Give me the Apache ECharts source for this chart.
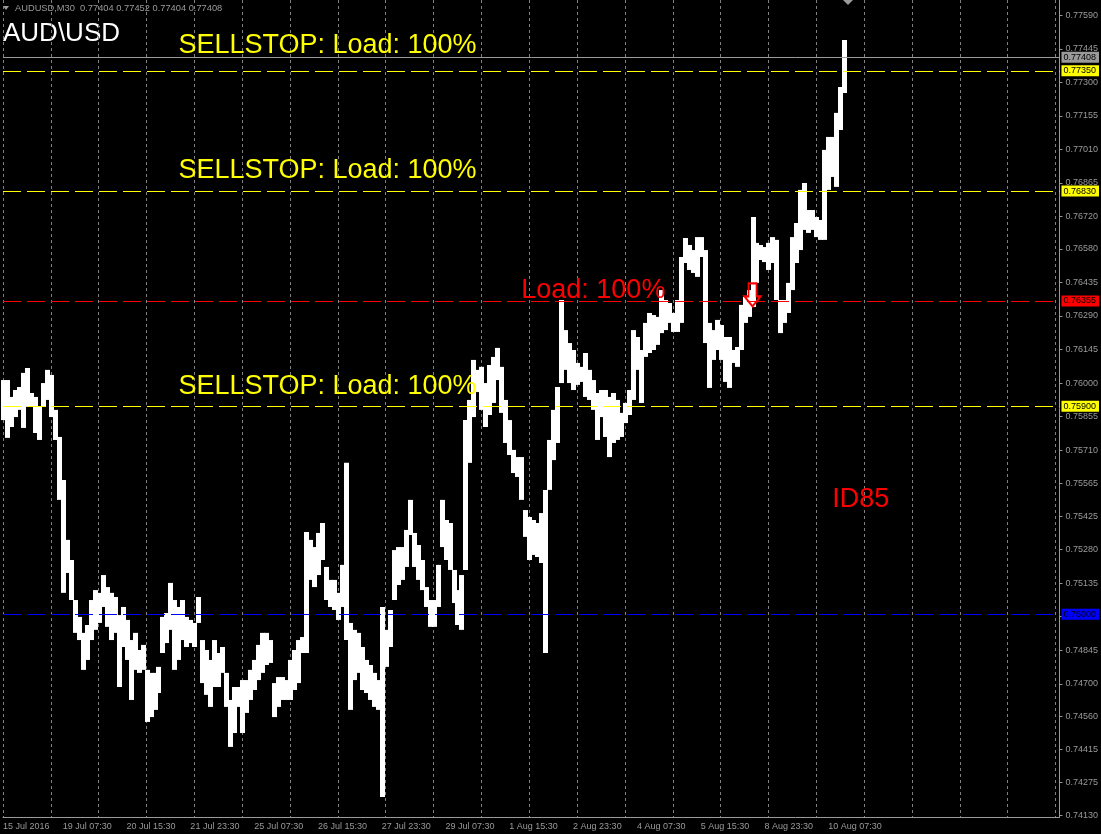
<!DOCTYPE html>
<html>
<head>
<meta charset="utf-8">
<script src="https://cdn.jsdelivr.net/npm/echarts@6/dist/echarts.min.js"></script>
<style>
  html, body { margin: 0; padding: 0; background: #000; }
  #chart { width: 1101px; height: 834px; }
</style>
</head>
<body>
<div id="chart"></div>
<script>
// AUDUSD M30, one entry per 4 bars (high / low of the group)
var highs = [
  0.76013, 0.76013, 0.75940, 0.75970, 0.75983, 0.76044, 0.76065, 0.75957, 0.75940, 0.75897,
  0.76000, 0.76057, 0.76035, 0.75884, 0.75767, 0.75581, 0.75322, 0.75235, 0.75062, 0.74989,
  0.74920, 0.74954, 0.75062, 0.75105, 0.75093, 0.75170, 0.75118, 0.75093, 0.75075, 0.74997,
  0.75032, 0.74976, 0.74889, 0.74920, 0.74846, 0.74868, 0.74760, 0.74747, 0.74747, 0.74773,
  0.74989, 0.75006, 0.75136, 0.75062, 0.75032, 0.75062, 0.74989, 0.74976, 0.74963, 0.75075,
  0.74889, 0.74846, 0.74803, 0.74889, 0.74833, 0.74859, 0.74747, 0.74630, 0.74686, 0.74686,
  0.74716, 0.74716, 0.74760, 0.74803, 0.74868, 0.74920, 0.74920, 0.74889, 0.74703, 0.74729,
  0.74729, 0.74716, 0.74803, 0.74846, 0.74889, 0.74902, 0.75356, 0.75322, 0.75291, 0.75352,
  0.75395, 0.75205, 0.75149, 0.75149, 0.75093, 0.75214, 0.75655, 0.74963, 0.74933, 0.74920,
  0.74859, 0.74803, 0.74781, 0.74747, 0.74716, 0.75032, 0.74933, 0.75019, 0.75278, 0.75291,
  0.75291, 0.75365, 0.75495, 0.75352, 0.75300, 0.75235, 0.75118, 0.75062, 0.75062, 0.75214,
  0.75495, 0.75408, 0.75395, 0.75192, 0.75105, 0.75170, 0.75840, 0.75927, 0.76100, 0.76057,
  0.76070, 0.76000, 0.76078, 0.76113, 0.76152, 0.76070, 0.75927, 0.75840, 0.75711, 0.75680,
  0.75680, 0.75451, 0.75421, 0.75408, 0.75395, 0.75438, 0.75538, 0.75754, 0.75884, 0.75983,
  0.76359, 0.76229, 0.76173, 0.76143, 0.76087, 0.76070, 0.76130, 0.76057, 0.76013, 0.75957,
  0.75970, 0.75970, 0.75940, 0.75957, 0.75927, 0.75871, 0.75914, 0.75970, 0.76229, 0.76199,
  0.76143, 0.76260, 0.76303, 0.76294, 0.76286, 0.76402, 0.76359, 0.76346, 0.76303, 0.76359,
  0.76545, 0.76627, 0.76597, 0.76575, 0.76631, 0.76631, 0.76575, 0.76260, 0.76229, 0.76273,
  0.76251, 0.76199, 0.76199, 0.76143, 0.76156, 0.76338, 0.76372, 0.76402, 0.76718, 0.76606,
  0.76597, 0.76588, 0.76606, 0.76631, 0.76619, 0.76359, 0.76359, 0.76433, 0.76631, 0.76692,
  0.76835, 0.76865, 0.76748, 0.76748, 0.76718, 0.76705, 0.77008, 0.77064, 0.77064, 0.77168,
  0.77280, 0.77483
];
var lows = [
  0.75840, 0.75763, 0.75810, 0.75853, 0.75884, 0.75806, 0.75897, 0.75897, 0.75784, 0.75754,
  0.75897, 0.75927, 0.75853, 0.75754, 0.75495, 0.75093, 0.75179, 0.75062, 0.74920, 0.74889,
  0.74760, 0.74803, 0.74889, 0.74933, 0.74963, 0.75032, 0.74946, 0.74889, 0.74920, 0.74686,
  0.74859, 0.74803, 0.74630, 0.74760, 0.74747, 0.74760, 0.74535, 0.74556, 0.74587, 0.74660,
  0.74833, 0.74876, 0.74933, 0.74760, 0.74803, 0.74889, 0.74859, 0.74876, 0.74859, 0.74963,
  0.74703, 0.74652, 0.74600, 0.74686, 0.74686, 0.74747, 0.74600, 0.74427, 0.74487, 0.74600,
  0.74487, 0.74574, 0.74630, 0.74673, 0.74716, 0.74747, 0.74781, 0.74790, 0.74556, 0.74600,
  0.74630, 0.74630, 0.74630, 0.74673, 0.74703, 0.74833, 0.74833, 0.75149, 0.75118, 0.75170,
  0.75235, 0.75062, 0.75032, 0.75019, 0.74976, 0.75032, 0.74889, 0.74587, 0.74716, 0.74747,
  0.74673, 0.74660, 0.74630, 0.74600, 0.74587, 0.74211, 0.74773, 0.74859, 0.75062, 0.75127,
  0.75149, 0.75205, 0.75343, 0.75205, 0.75149, 0.75105, 0.75032, 0.74946, 0.74946, 0.75032,
  0.75291, 0.75235, 0.75192, 0.75049, 0.74954, 0.74933, 0.75192, 0.75655, 0.75853, 0.75961,
  0.75884, 0.75810, 0.75862, 0.75914, 0.76013, 0.75871, 0.75741, 0.75689, 0.75611, 0.75594,
  0.75495, 0.75335, 0.75235, 0.75257, 0.75248, 0.75222, 0.74833, 0.75538, 0.75667, 0.75741,
  0.76000, 0.76057, 0.76000, 0.75970, 0.75992, 0.76005, 0.75940, 0.75927, 0.75884, 0.75754,
  0.75853, 0.75767, 0.75680, 0.75741, 0.75754, 0.75767, 0.75827, 0.75862, 0.75927, 0.76057,
  0.75914, 0.76113, 0.76130, 0.76143, 0.76165, 0.76216, 0.76229, 0.76260, 0.76221, 0.76221,
  0.76260, 0.76519, 0.76489, 0.76476, 0.76459, 0.76545, 0.76173, 0.75979, 0.76100, 0.76143,
  0.76100, 0.76005, 0.75979, 0.76087, 0.76070, 0.76143, 0.76260, 0.76286, 0.76329, 0.76433,
  0.76532, 0.76523, 0.76489, 0.76519, 0.76359, 0.76216, 0.76260, 0.76303, 0.76402, 0.76519,
  0.76575, 0.76662, 0.76649, 0.76662, 0.76631, 0.76619, 0.76619, 0.76835, 0.76891, 0.76848,
  0.77094, 0.77254
];

var timeLabels = ['15 Jul 2016', '19 Jul 07:30', '20 Jul 15:30', '21 Jul 23:30', '25 Jul 07:30',
  '26 Jul 15:30', '27 Jul 23:30', '29 Jul 07:30', '1 Aug 15:30', '2 Aug 23:30', '4 Aug 07:30',
  '5 Aug 15:30', '8 Aug 23:30', '10 Aug 07:30'];
var priceTicks = [0.77590, 0.77445, 0.77300, 0.77155, 0.77010, 0.76865, 0.76720, 0.76580,
  0.76435, 0.76290, 0.76145, 0.76000, 0.75855, 0.75710, 0.75565, 0.75425, 0.75280, 0.75135,
  0.74990, 0.74845, 0.74700, 0.74560, 0.74415, 0.74275, 0.74130];

var lastPrice = 0.77408;
var sellStops = [0.77350, 0.76830, 0.75900];
var sellLevel = 0.76355;
var buyLevel = 0.75000;
var header = 'AUDUSD,M30  0.77404 0.77452 0.77404 0.77408';

// text objects anchored at (group index, price)
var notes = [
  { text: 'SELLSTOP: Load: 100%', idx: 44, price: 0.77459, kind: 'stop' },
  { text: 'SELLSTOP: Load: 100%', idx: 44, price: 0.76917, kind: 'stop' },
  { text: 'SELLSTOP: Load: 100%', idx: 44, price: 0.75987, kind: 'stop' },
  { text: 'Load: 100%', idx: 130, price: 0.76402, kind: 'sell' },
  { text: 'ID85', idx: 208, price: 0.75495, kind: 'sell' }
];
var sellArrow = { idx: 188, price: 0.76381 };

var GROUPS = 266;   // 4 bars per group, incl. chart shift space
var LABEL_STEP = 16;
var DAY_STEP = 12;

var categories = [];
for (var i = 0; i < GROUPS; i++) categories.push('');
timeLabels.forEach(function (t, n) {
  categories[n === 0 ? 0 : n * LABEL_STEP - 1] = t;
});
var bars = highs.map(function (h, i) { return [i, lows[i], h]; });

var FONT = '"Liberation Sans", Arial, sans-serif';
var AXIS_GRAY = '#9a9a9a';

function level(v, color, dashed) {
  return {
    yAxis: v,
    lineStyle: { color: color, width: 1, type: dashed ? [18, 6] : 'solid' },
    label: {
      show: true, position: 'end', distance: 2, formatter: v.toFixed(5),
      backgroundColor: color, color: '#000', fontSize: 9, fontFamily: FONT,
      padding: [1, 3, 0, 2], lineHeight: 10
    }
  };
}

var lines = [level(lastPrice, '#9a9a9a', false)];
sellStops.forEach(function (v) { lines.push(level(v, '#ffff00', true)); });
lines.push(level(sellLevel, '#ff0000', true));
lines.push(level(buyLevel, '#0000ff', true));

var points = notes.map(function (n) {
  return {
    coord: [n.idx, n.price], symbol: 'circle', symbolSize: 0,
    label: {
      show: true, position: 'right', distance: 0, formatter: n.text,
      color: n.kind === 'stop' ? '#ffff00' : '#ff0000', fontSize: 27, fontFamily: FONT
    }
  };
});
points.push({
  coord: [sellArrow.idx, sellArrow.price],
  symbol: 'path://M4,0 L12,0 L12,13 L16,13 L8,23 L0,13 L4,13 Z',
  symbolSize: [16, 23],
  itemStyle: { color: 'rgba(0,0,0,0)', borderColor: '#ff0000', borderWidth: 2 },
  label: { show: false }
});

var chart = echarts.init(document.getElementById('chart'));
var option = {
  backgroundColor: '#000',
  animation: false,
  grid: { left: 0, right: 41, top: 0, bottom: 17 },
  graphic: [
    { type: 'polygon', shape: { points: [[3, 6], [9, 6], [6, 10]] }, style: { fill: AXIS_GRAY } },
    { type: 'text', x: 15, y: 8.5, style: { text: header, fill: AXIS_GRAY, font: '9.3px ' + FONT, verticalAlign: 'middle' } },
    { type: 'text', x: 3, y: 34, style: { text: 'AUD\\USD', fill: '#ffffff', font: '26px ' + FONT, verticalAlign: 'middle' } },
    { type: 'polygon', shape: { points: [[843, 0], [853, 0], [848, 5]] }, style: { fill: AXIS_GRAY } }
  ],
  xAxis: {
    type: 'category',
    data: categories,
    boundaryGap: false,
    axisLine: { show: true, lineStyle: { color: AXIS_GRAY } },
    axisTick: { show: false },
    axisLabel: {
      interval: function (i) { return categories[i] !== ''; },
      align: 'left', margin: 5, color: AXIS_GRAY, fontSize: 9, fontFamily: FONT
    },
    splitLine: {
      show: true,
      interval: function (i) { return i % DAY_STEP === 0; },
      lineStyle: { color: '#808080', type: [3, 3], width: 1 }
    }
  },
  yAxis: {
    type: 'value',
    position: 'right',
    min: 0.74124,
    max: 0.77656,
    axisLine: { show: true, lineStyle: { color: AXIS_GRAY } },
    axisTick: { show: true, length: 3, lineStyle: { color: AXIS_GRAY }, customValues: priceTicks },
    axisLabel: {
      customValues: priceTicks, margin: 6, color: AXIS_GRAY, fontSize: 9, fontFamily: FONT,
      formatter: function (v) { return v.toFixed(5); }
    },
    splitLine: { show: false }
  },
  series: [{
    type: 'custom',
    data: bars,
    renderItem: function (params, api) {
      var top = api.coord([api.value(0), api.value(2)]);
      var bottom = api.coord([api.value(0), api.value(1)]);
      var w = api.size([1, 0])[0];
      var x0 = Math.round(top[0] - w / 2);
      return {
        type: 'rect',
        shape: { x: x0, y: top[1], width: Math.ceil(w) + 1, height: Math.max(1, bottom[1] - top[1]) },
        style: { fill: '#ffffff', stroke: null, lineWidth: 0 }
      };
    },
    markPoint: { silent: true, data: points }
  }, {
    // price levels: orders, stops and bid line
    type: 'line',
    data: [],
    symbol: 'none',
    markLine: { silent: true, precision: 5, symbol: ['none', 'none'], data: lines }
  }]
};
chart.setOption(option);
</script>
</body>
</html>
